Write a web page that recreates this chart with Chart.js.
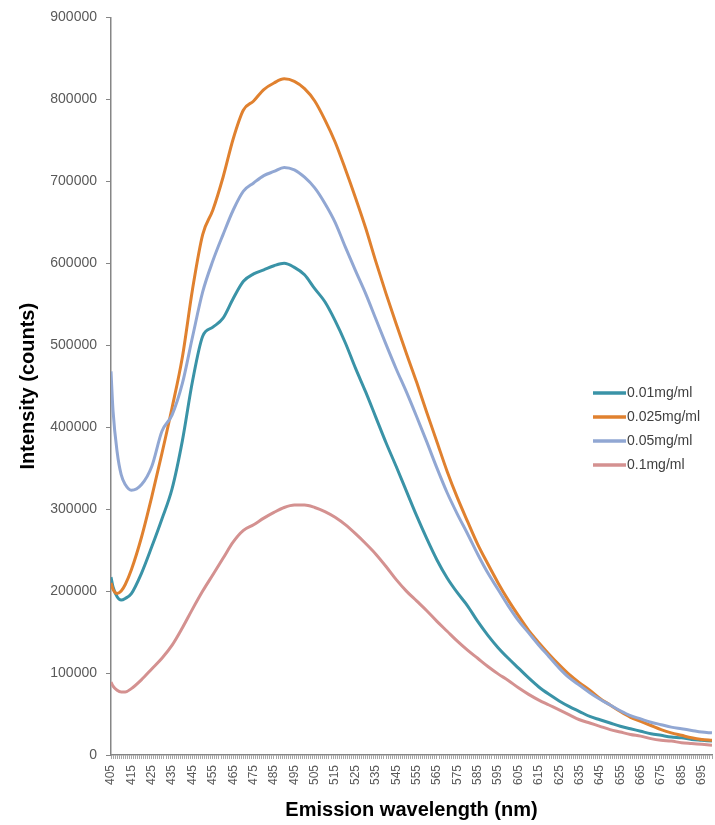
<!DOCTYPE html>
<html>
<head>
<meta charset="utf-8">
<title>Emission spectra</title>
<script src="https://cdn.jsdelivr.net/npm/chart.js@4.4.0/dist/chart.umd.min.js"></script>
<style>
    html, body { margin: 0; padding: 0; background: #fff; }
    .chart-wrap { position: relative; width: 715px; height: 825px; }
</style>
</head>
<body>
<div class="chart-wrap"><canvas id="myChart"></canvas></div>
<script>
// emission wavelength (nm) of each reading
var wavelengths = [405, 406, 408, 410, 412, 415,
    420, 425, 430, 435, 440, 445, 450, 455, 460, 465, 470, 475, 480, 485, 490, 495,
    500, 505, 510, 515, 520, 525, 530, 535, 540, 545, 550, 555, 560, 565, 570, 575,
    580, 585, 590, 595, 600, 605, 610, 615, 620, 625, 630, 635, 640, 645, 650, 655,
    660, 665, 670, 675, 680, 685, 690, 695, 700];

// intensities in thousands of counts
var conc001 = [217, 205, 193, 189, 191, 197,
    222, 254, 288, 325, 383, 456, 511, 522, 533, 557, 578, 587, 592, 597, 600, 595,
    586, 569, 553, 530, 503, 472, 443, 412, 381, 352, 322, 292, 264, 238, 216, 198,
    182, 163, 146, 131, 118, 106, 94, 83, 74, 66, 59, 53, 47, 43, 39, 35,
    32, 29, 26, 24, 22, 21, 19, 18, 17];

var conc0025 = [210, 202, 197, 200, 208, 226,
    266, 315, 368, 424, 485, 568, 635, 665, 705, 752, 787, 798, 812, 820, 825, 822,
    813, 798, 775, 748, 715, 680, 643, 602, 563, 526, 490, 455, 418, 382, 346, 314,
    285, 257, 233, 210, 189, 170, 152, 137, 123, 110, 98, 88, 79, 69, 61, 53,
    46, 41, 36, 31, 27, 24, 21, 19, 18];

var conc005 = [468, 420, 370, 342, 330, 323,
    330, 352, 395, 415, 453, 510, 565, 603, 635, 665, 688, 698, 707, 712, 717, 714,
    705, 692, 673, 650, 620, 591, 563, 532, 501, 471, 443, 413, 382, 350, 320, 294,
    270, 245, 222, 202, 182, 164, 149, 134, 120, 106, 94, 85, 76, 68, 61, 54,
    48, 44, 40, 37, 34, 32, 30, 28, 27];

var conc01 = [89, 84, 79, 77, 77, 81,
    92, 105, 118, 134, 155, 178, 200, 220, 240, 260, 274, 281, 289, 296, 302, 305,
    305, 302, 297, 290, 281, 270, 258, 245, 230, 214, 200, 188, 176, 163, 151, 139,
    128, 118, 108, 99, 91, 82, 74, 67, 61, 55, 49, 43, 39, 35, 31, 28,
    25, 23, 20, 18, 17, 15, 14, 13, 12];

var seriesNames = ['0.01mg/ml', '0.025mg/ml', '0.05mg/ml', '0.1mg/ml'];
var seriesValues = [conc001, conc0025, conc005, conc01];
var seriesColors = ['#3a93a7', '#e0812f', '#91a7d3', '#d49190'];

// axis labels
var xTickLabels = [405, 415, 425, 435, 445, 455, 465, 475, 485, 495, 505, 515, 525, 535, 545,
    555, 565, 575, 585, 595, 605, 615, 625, 635, 645, 655, 665, 675, 685, 695];
var yTickLabels = [0, 100000, 200000, 300000, 400000, 500000, 600000, 700000, 800000, 900000];

var xMin = 405, xMax = 700;

Chart.defaults.font.family = '"Liberation Sans", Arial, sans-serif';

// legend drawn inside the plot, right side
var sideLegend = {
    id: 'sideLegend',
    afterDraw: function (chart) {
        var ctx = chart.ctx;
        var left = 593, top = 393, gap = 24;
        chart.data.datasets.forEach(function (ds, i) {
            var y = top + i * gap;
            ctx.save();
            ctx.strokeStyle = ds.borderColor;
            ctx.lineWidth = 3.5;
            ctx.beginPath();
            ctx.moveTo(left, y);
            ctx.lineTo(left + 33, y);
            ctx.stroke();
            ctx.fillStyle = '#404040';
            ctx.font = '14px "Liberation Sans", Arial, sans-serif';
            ctx.textBaseline = 'middle';
            ctx.fillText(ds.label, left + 34, y);
            ctx.restore();
        });
    }
};

var datasets = seriesNames.map(function (name, i) {
    return {
        label: name,
        data: wavelengths.map(function (w, j) {
            return { x: w, y: seriesValues[i][j] * 1000 };
        }),
        borderColor: seriesColors[i],
        backgroundColor: seriesColors[i],
        borderWidth: 3,
        pointRadius: 0,
        cubicInterpolationMode: 'monotone',
        order: seriesNames.length - i
    };
});

var ctx = document.getElementById('myChart');
var chart = new Chart(ctx, {
    type: 'line',
    data: { datasets: datasets },
    plugins: [sideLegend],
    options: {
        responsive: true,
        maintainAspectRatio: false,
        animation: false,
        layout: { padding: { top: 17, right: 3, left: 0, bottom: 0 } },
        plugins: {
            legend: { display: false },
            tooltip: { enabled: false }
        },
        scales: {
            x: {
                type: 'linear',
                min: xMin,
                max: xMax,
                afterBuildTicks: function (scale) {
                    var t = [];
                    for (var v = xMin; v <= xMax; v++) t.push({ value: v });
                    scale.ticks = t;
                },
                afterFit: function (scale) {
                    scale.height = 70;
                    scale.paddingLeft = 0;
                    scale.paddingRight = 0;
                },
                ticks: {
                    autoSkip: false,
                    minRotation: 90,
                    maxRotation: 90,
                    padding: 6,
                    color: '#595959',
                    font: { size: 12 },
                    callback: function (v) {
                        return xTickLabels.indexOf(v) > -1 ? String(v) : '';
                    }
                },
                grid: { drawOnChartArea: false, tickLength: 4, color: '#a6a6a6' },
                border: { color: '#868686', width: 1.5 },
                title: {
                    display: true,
                    text: 'Emission wavelength (nm)',
                    color: '#000',
                    font: { size: 20, weight: 'bold' },
                    padding: { top: 0, bottom: 3 }
                }
            },
            y: {
                min: 0,
                max: 900000,
                afterBuildTicks: function (scale) {
                    scale.ticks = yTickLabels.map(function (v) { return { value: v }; });
                },
                afterFit: function (scale) {
                    scale.width = 111;
                },
                ticks: {
                    padding: 9,
                    color: '#595959',
                    font: { size: 14 },
                    callback: function (v) { return String(v); }
                },
                grid: { drawOnChartArea: false, tickLength: 5, color: '#868686' },
                border: { color: '#868686', width: 1.5 },
                title: {
                    display: true,
                    text: 'Intensity (counts)',
                    color: '#000',
                    font: { size: 20, weight: 'bold' },
                    padding: { top: 16, bottom: 0 }
                }
            }
        }
    }
});
</script>
</body>
</html>
